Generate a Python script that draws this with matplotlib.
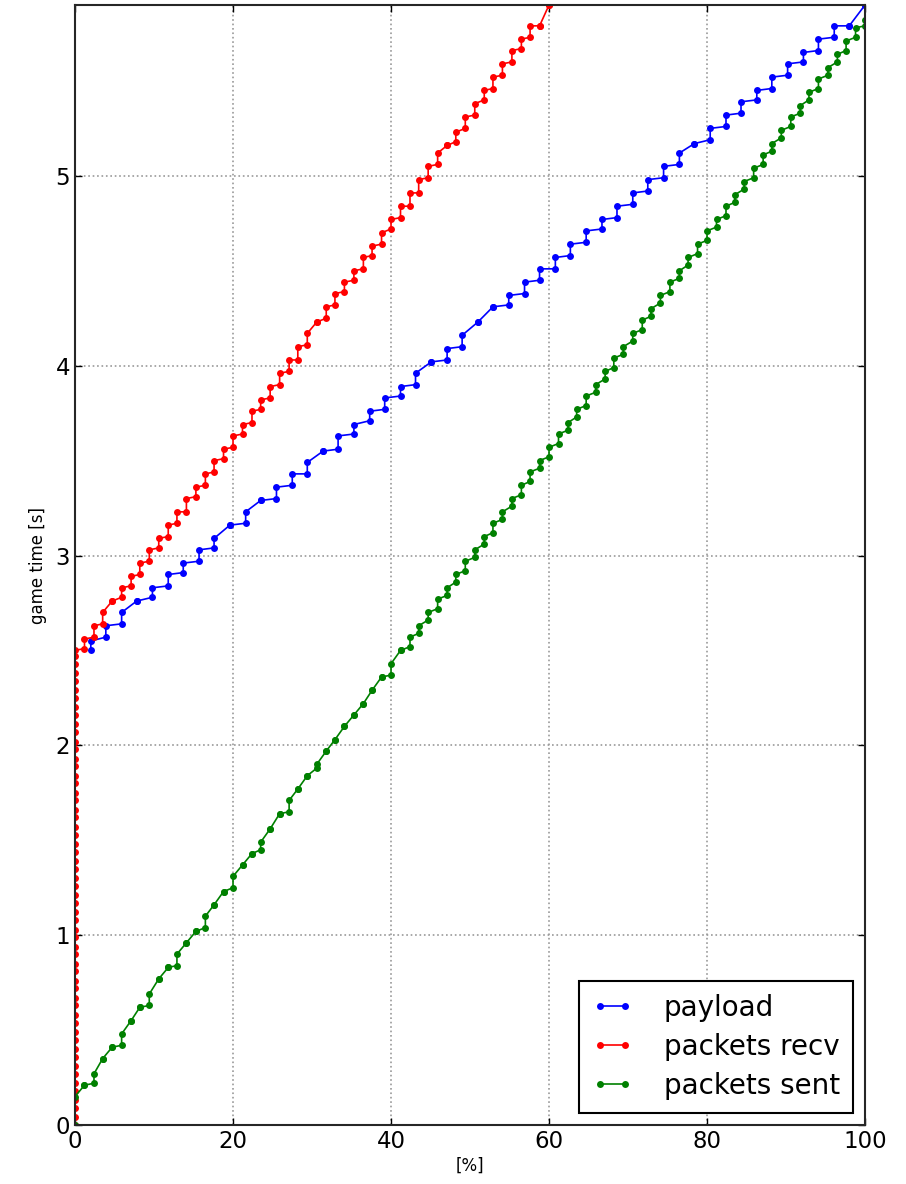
import numpy as np
import matplotlib
matplotlib.use('Agg')
from matplotlib import pyplot as plt

# percent of total at each step
payload_pct = [2.0, 3.9, 5.9, 7.8, 9.8, 11.8, 13.7, 15.7, 17.6, 19.6, 21.6, 23.5, 25.5,
               27.5, 29.4, 31.4, 33.3, 35.3, 37.3, 39.2, 41.2, 43.1, 45.1, 47.1, 49.0,
               51.0, 52.9, 54.9, 56.9, 58.8, 60.8, 62.7, 64.7, 66.7, 68.6, 70.6, 72.5,
               74.5, 76.5, 78.4, 80.4, 82.4, 84.3, 86.3, 88.2, 90.2, 92.2, 94.1, 96.1,
               98.0, 100.0]
pkt_pct = [0.0, 1.2, 2.4, 3.5, 4.7, 5.9, 7.1, 8.2, 9.4, 10.6, 11.8, 12.9, 14.1, 15.3,
           16.5, 17.6, 18.8, 20.0, 21.2, 22.4, 23.5, 24.7, 25.9, 27.1, 28.2, 29.4, 30.6,
           31.8, 32.9, 34.1, 35.3, 36.5, 37.6, 38.8, 40.0, 41.2, 42.4, 43.5, 44.7, 45.9,
           47.1, 48.2, 49.4, 50.6, 51.8, 52.9, 54.1, 55.3, 56.5, 57.6, 58.8, 60.0, 61.2,
           62.4, 63.5, 64.7, 65.9, 67.1, 68.2, 69.4, 70.6, 71.8, 72.9, 74.1, 75.3, 76.5,
           77.6, 78.8, 80.0, 81.2, 82.4, 83.5, 84.7, 85.9, 87.1, 88.2, 89.4, 90.6, 91.8,
           92.9, 94.1, 95.3, 96.5, 97.6, 98.8, 100.0]

# game time [s] at start / end of each step
payload_t0 = [2.50, 2.57, 2.64, 2.76, 2.78, 2.84, 2.91, 2.97, 3.04, 3.16, 3.17, 3.29, 3.30,
              3.37, 3.43, 3.55, 3.56, 3.64, 3.71, 3.77, 3.84, 3.90, 4.02, 4.03, 4.10, 4.23,
              4.31, 4.32, 4.38, 4.45, 4.51, 4.58, 4.65, 4.72, 4.78, 4.85, 4.92, 4.99, 5.06,
              5.17, 5.19, 5.26, 5.33, 5.40, 5.46, 5.53, 5.60, 5.66, 5.73, 5.79, 5.90]
payload_t1 = [2.55, 2.63, 2.70, 2.76, 2.83, 2.90, 2.96, 3.03, 3.09, 3.16, 3.23, 3.29, 3.36,
              3.43, 3.49, 3.55, 3.63, 3.69, 3.76, 3.83, 3.89, 3.96, 4.02, 4.09, 4.16, 4.23,
              4.31, 4.37, 4.44, 4.51, 4.57, 4.64, 4.71, 4.77, 4.84, 4.91, 4.98, 5.05, 5.12,
              5.17, 5.25, 5.32, 5.39, 5.45, 5.52, 5.59, 5.65, 5.72, 5.79, 5.79, 5.90]

recv_wait = [0.00, 0.04, 0.09, 0.13, 0.18, 0.22, 0.27, 0.31, 0.36, 0.40, 0.45, 0.49, 0.54,
             0.58, 0.63, 0.67, 0.72, 0.76, 0.81, 0.85, 0.90, 0.94, 0.99, 1.03, 1.08, 1.12,
             1.17, 1.21, 1.26, 1.30, 1.35, 1.39, 1.44, 1.48, 1.53, 1.57, 1.62, 1.66, 1.71,
             1.75, 1.80, 1.84, 1.89, 1.93, 1.98, 2.02, 2.07, 2.11, 2.16, 2.20, 2.25, 2.29,
             2.34, 2.38, 2.43, 2.47, 2.50]
recv_t0 = [2.51, 2.57, 2.64, 2.76, 2.78, 2.84, 2.90, 2.97, 3.04, 3.10, 3.17, 3.23, 3.31,
           3.37, 3.44, 3.51, 3.57, 3.64, 3.70, 3.77, 3.83, 3.90, 3.97, 4.03, 4.11, 4.23,
           4.25, 4.32, 4.39, 4.45, 4.51, 4.58, 4.64, 4.72, 4.78, 4.84, 4.91, 4.99, 5.06,
           5.16, 5.18, 5.25, 5.32, 5.40, 5.46, 5.53, 5.60, 5.67, 5.73, 5.79, 5.90]
recv_t1 = [2.56, 2.63, 2.70, 2.76, 2.83, 2.89, 2.96, 3.03, 3.09, 3.16, 3.23, 3.30, 3.36,
           3.43, 3.50, 3.56, 3.63, 3.69, 3.76, 3.82, 3.89, 3.96, 4.03, 4.10, 4.17, 4.23,
           4.31, 4.38, 4.44, 4.50, 4.57, 4.63, 4.70, 4.77, 4.84, 4.91, 4.98, 5.05, 5.12,
           5.16, 5.23, 5.31, 5.38, 5.45, 5.52, 5.59, 5.66, 5.72, 5.79, 5.79, 5.90]

sent_t0 = [0.00, 0.21, 0.22, 0.35, 0.41, 0.42, 0.55, 0.62, 0.63, 0.77, 0.83, 0.84, 0.96,
           1.02, 1.04, 1.16, 1.23, 1.25, 1.37, 1.43, 1.45, 1.56, 1.64, 1.65, 1.77, 1.84,
           1.88, 1.97, 2.03, 2.10, 2.16, 2.22, 2.29, 2.36, 2.37, 2.50, 2.52, 2.59, 2.66,
           2.72, 2.79, 2.86, 2.92, 2.99, 3.06, 3.12, 3.19, 3.26, 3.32, 3.39, 3.46, 3.52,
           3.59, 3.66, 3.73, 3.79, 3.86, 3.93, 3.99, 4.06, 4.13, 4.19, 4.26, 4.33, 4.39,
           4.46, 4.53, 4.59, 4.66, 4.73, 4.79, 4.86, 4.93, 4.99, 5.06, 5.13, 5.20, 5.26,
           5.33, 5.40, 5.46, 5.53, 5.60, 5.66, 5.73, 5.79]
sent_t1 = [0.15, 0.21, 0.27, 0.35, 0.41, 0.48, 0.55, 0.62, 0.69, 0.77, 0.83, 0.90, 0.96,
           1.02, 1.10, 1.16, 1.23, 1.31, 1.37, 1.43, 1.49, 1.56, 1.64, 1.71, 1.77, 1.84,
           1.90, 1.97, 2.03, 2.10, 2.16, 2.22, 2.29, 2.36, 2.43, 2.50, 2.57, 2.63, 2.70,
           2.77, 2.83, 2.90, 2.97, 3.03, 3.10, 3.17, 3.23, 3.30, 3.37, 3.44, 3.50, 3.57,
           3.64, 3.70, 3.77, 3.84, 3.90, 3.97, 4.04, 4.10, 4.17, 4.24, 4.30, 4.37, 4.44,
           4.50, 4.57, 4.64, 4.71, 4.77, 4.84, 4.90, 4.97, 5.04, 5.11, 5.17, 5.24, 5.31,
           5.37, 5.44, 5.51, 5.57, 5.64, 5.71, 5.78, 5.82]


def stairs(xs, t0, t1):
    # each step: start and end time at the same percent value
    px, py = [], []
    for x, a, b in zip(xs, t0, t1, strict=True):
        px += [x, x]
        py += [a, b]
    return px, py


fig = plt.figure(figsize=(9.06, 11.84), dpi=100)
ax = fig.add_axes([0.0828, 0.0498, 0.872, 0.946])

bx, by = stairs(payload_pct, payload_t0, payload_t1)
rx, ry = stairs(pkt_pct[1:52], recv_t0, recv_t1)
rx = [0.0] * len(recv_wait) + rx
ry = recv_wait + ry
gx, gy = stairs(pkt_pct, sent_t0, sent_t1)

style = dict(marker='o', markersize=5, markeredgewidth=0, linewidth=1.2)
ax.plot(bx, by, color='b', label='payload', **style)
ax.plot(rx, ry, color='r', label='packets recv', **style)
ax.plot(gx, gy, color='g', label='packets sent', **style)

ax.set_xlim(0, 100)
ax.set_ylim(0, 5.9)
ax.set_xticks([0, 20, 40, 60, 80, 100])
ax.set_yticks([0, 1, 2, 3, 4, 5])
ax.grid(True, linestyle=':', color='0.6', linewidth=1.2)
ax.tick_params(direction='in', top=True, right=True, length=5, width=1, labelsize=16.5)
for sp in ax.spines.values():
    sp.set_linewidth(1.5)
    sp.set_color('0.15')

ax.set_xlabel('[%]', fontsize=12, labelpad=3)
ax.set_ylabel('game time [s]', fontsize=12, labelpad=6)

leg = ax.legend(loc='lower right', fontsize=20, fancybox=False, framealpha=1,
                edgecolor='black', handlelength=1.5, handletextpad=1.1, numpoints=2,
                borderaxespad=0.45, labelspacing=0.4, borderpad=0.45)
leg.get_frame().set_linewidth(1.5)

fig.savefig('out.png', dpi=100)
